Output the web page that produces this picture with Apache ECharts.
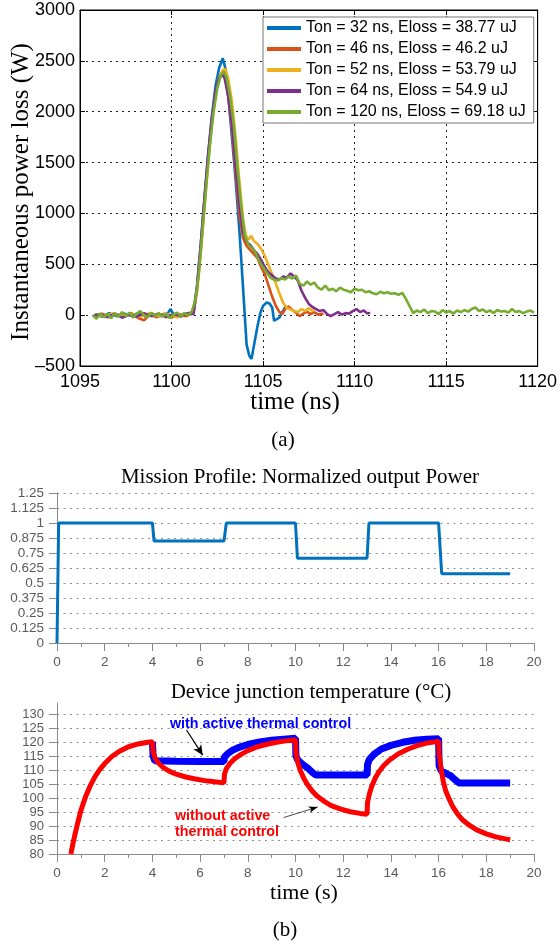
<!DOCTYPE html>
<html><head><meta charset="utf-8">
<script src="https://cdn.jsdelivr.net/npm/echarts@6/dist/echarts.min.js"></script>
<style>html,body{margin:0;padding:0;background:#fff}#c{width:560px;height:945px}</style>
</head><body><div id="c"></div><script>
// ---------- (a) switching power loss ----------
const legendNames = [
  'Ton = 32 ns, Eloss = 38.77 uJ',
  'Ton = 46 ns, Eloss = 46.2 uJ',
  'Ton = 52 ns, Eloss = 53.79 uJ',
  'Ton = 64 ns, Eloss = 54.9 uJ',
  'Ton = 120 ns, Eloss = 69.18 uJ'
];
const t32 = [1095.8,1096.2,1096.6,1097.0,1097.4,1097.8,1098.2,1098.6,1099.0,1099.4,1099.8,1099.95,1100.1,1100.5,1100.9,1101.2,
  1101.4,1101.6,1101.8,1102.0,1102.2,1102.4,1102.6,1102.8,1102.95,1103.1,1103.3,1103.5,1103.7,1103.9,1104.1,1104.25,1104.37,1104.5,1104.7,1104.85,1105.0,1105.2,1105.35,1105.5,1105.6,1105.75,1105.9,1106.05,1106.2,1106.35,1106.45];
const p32 = [10,-15,20,-10,15,-5,20,-15,10,-10,20,60,10,-15,15,30,
  300,700,1150,1580,1950,2250,2430,2526,2420,2150,1750,1330,850,290,-290,-400,-430,-300,-104,20,91,124,115,75,-55,-40,-23,30,75,80,60];
const t46 = [1095.8,1096.2,1096.6,1097.0,1097.4,1097.8,1098.2,1098.5,1098.8,1099.2,1099.6,1100.0,1100.4,1100.8,1101.2,
  1101.4,1101.6,1101.8,1102.0,1102.2,1102.4,1102.6,1102.8,1102.95,1103.1,1103.3,1103.5,1103.7,1103.9,1104.1,1104.3,1104.5,1104.7,1104.9,1105.1,1105.3,1105.5,1105.7,1105.9,1106.05,1106.2,1106.4,1106.6,1106.8,1107.0,1107.2,1107.4,1107.6,1107.8,1108.0,1108.3];
const p46 = [-10,15,-20,10,-15,20,-30,-50,5,-20,15,-25,10,-10,20,
  260,650,1100,1530,1900,2180,2330,2380,2330,2150,1830,1400,1000,760,680,640,600,560,470,400,290,180,90,30,10,60,85,50,25,-10,15,35,10,30,5,15];
const t52 = [1095.8,1096.3,1096.8,1097.3,1097.8,1098.3,1098.8,1099.3,1099.8,1100.3,1100.8,1101.2,
  1101.4,1101.6,1101.8,1102.0,1102.2,1102.4,1102.6,1102.8,1102.95,1103.1,1103.3,1103.5,1103.7,1103.9,1104.05,1104.2,1104.35,1104.5,1104.7,1104.9,1105.1,1105.3,1105.5,1105.7,1105.9,1106.1,1106.3,1106.5,1106.7,1106.9,1107.1,1107.3,1107.5,1107.7,1107.8];
const p52 = [5,-10,15,-5,10,-15,20,-5,10,-20,15,25,
  240,620,1060,1490,1870,2160,2340,2410,2420,2320,2100,1750,1330,960,790,740,780,730,700,650,580,490,400,310,210,120,70,55,40,30,60,40,70,40,50];
const t64 = [1095.7,1096.1,1096.5,1096.9,1097.3,1097.7,1098.1,1098.5,1098.9,1099.3,1099.7,1100.1,1100.5,1100.9,1101.2,
  1101.4,1101.6,1101.8,1102.0,1102.2,1102.4,1102.6,1102.75,1102.9,1103.1,1103.3,1103.5,1103.7,1103.9,1104.1,1104.3,1104.5,1104.7,1104.9,1105.1,1105.3,1105.5,1105.7,1105.9,1106.1,1106.3,1106.5,1106.7,1106.9,1107.1,1107.3,1107.5,1107.7,1107.9,1108.1,1108.3,1108.5,1108.7,1108.9,1109.1,1109.3,1109.5,1109.7,1109.9,1110.1,1110.3,1110.5,1110.7,1110.85];
const p64 = [-10,10,-20,15,-25,5,-15,20,-10,15,-20,10,-5,20,10,
  290,700,1150,1580,1930,2190,2330,2370,2330,2150,1880,1480,1100,820,720,690,640,600,540,470,420,390,360,350,380,370,410,380,340,240,170,110,80,60,40,50,10,-10,10,30,5,20,15,40,60,30,45,15,25];
const t120 = [1095.7,1095.9,1096.1,1096.3,1096.5,1096.7,1096.9,1097.1,1097.3,1097.5,1097.7,1097.9,1098.1,1098.3,1098.5,1098.7,1098.9,1099.1,1099.3,1099.5,1099.7,1099.9,1100.1,1100.3,1100.5,1100.7,1100.9,1101.1,
  1101.3,1101.5,1101.7,1101.9,1102.1,1102.3,1102.5,1102.7,1102.85,1103.0,1103.2,1103.4,1103.6,1103.8,1104.0,1104.2,1104.4,1104.6,1104.8,1105.0,1105.2,1105.4,1105.6,1105.8,1106.0,1106.2,1106.4,1106.6,1106.8,1107.0,1107.2,1107.4,1107.6,1107.8,1108.0,1108.2,1108.4,1108.6,1108.8,1109.0,1109.2,1109.4,1109.6,1109.8,1110.0,1110.2,1110.4,1110.6,1110.8,1111.0,1111.2,1111.4,1111.6,1111.8,1112.0,1112.2,1112.4,1112.6,1112.8,1113.0,1113.2,1113.4,1113.6,1113.8,1114.0,1114.2,1114.4,1114.6,1114.8,1115.0,1115.2,1115.4,1115.6,1115.8,1116.0,1116.2,1116.4,1116.6,1116.8,1117.0,1117.2,1117.4,1117.6,1117.8,1118.0,1118.2,1118.4,1118.6,1118.8,1119.0,1119.2,1119.4,1119.6,1119.8];
const p120 = [0,-35,15,-20,10,-30,20,-15,30,-10,25,-25,15,40,0,-20,25,-10,20,-15,10,-30,5,25,-10,20,0,30,
  150,420,850,1280,1680,2000,2230,2360,2395,2340,2150,1870,1450,1080,780,690,660,610,530,470,420,370,350,340,365,350,380,360,390,310,290,330,300,320,270,250,290,245,260,235,270,250,240,225,260,245,250,225,235,215,205,230,215,225,210,215,200,220,160,90,20,45,30,55,20,40,35,10,50,25,40,15,45,30,50,35,60,75,40,55,30,45,20,50,35,40,25,60,30,40,20,35,45,25];

// ---------- (b) mission profile ----------
const missionT = [0, 0.07, 4.0, 4.07, 7.0, 7.1, 10.0, 10.08, 13.0, 13.08, 16.0, 16.13, 19.0];
const missionP = [0, 1, 1, 0.85, 0.85, 1, 1, 0.707, 0.707, 1, 1, 0.577, 0.577];

// ---------- (b) junction temperature ----------
const tNoCtrl = [0.58,0.7,0.85,1.0,1.2,1.4,1.6,1.8,2.0,2.3,2.6,3.0,3.4,3.8,4.0,
  4.03,4.1,4.25,4.45,4.7,5.0,5.4,5.8,6.2,6.6,7.0,
  7.02,7.1,7.25,7.45,7.7,8.0,8.4,8.8,9.2,9.6,10.0,
  10.02,10.1,10.2,10.35,10.5,10.7,10.9,11.2,11.5,11.9,12.3,12.7,13.0,
  13.02,13.1,13.2,13.35,13.5,13.7,13.95,14.3,14.7,15.1,15.5,16.0,
  16.02,16.1,16.2,16.3,16.45,16.6,16.8,17.0,17.3,17.6,18.0,18.4,18.8,19.0];
const TjNoCtrl = [80,85,90.5,95.5,100.5,104.5,107.7,110.2,112.3,114.8,116.6,118.3,119.3,119.9,120.1,
  116.5,114.5,112.5,110.9,109.6,108.5,107.5,106.8,106.2,105.8,105.4,
  108.5,110.5,112.3,114,115.5,116.9,118.3,119.2,119.9,120.4,120.8,
  116,112.5,109.8,107,104.8,102.5,100.7,98.8,97.3,96,95.1,94.5,94.2,
  98.5,101.5,104.3,107.2,109.4,111.6,113.6,115.7,117.4,118.7,119.6,120.3,
  116,110.5,105.8,102.5,99.5,96.8,94.2,92.2,90.2,88.6,87.2,86.1,85.4,85.1];
const tCtrl = [4.0,4.03,4.1,5.0,6.0,7.0,
  7.02,7.15,7.35,7.6,8.0,8.5,9.0,9.5,10.0,
  10.02,10.1,10.3,10.5,10.7,10.85,11.5,12.5,13.0,
  13.02,13.1,13.3,13.6,14.0,14.5,15.0,15.5,16.0,
  16.02,16.1,16.3,16.5,16.65,16.85,17.5,18.5,19.0];
const TjCtrl = [120,115,113.3,113.1,113,113,
  114.6,115.8,117,118,119.1,120,120.6,121,121.3,
  115,113.5,112,110.8,109.2,108.2,108.2,108.2,108.2,
  112,113.8,115.7,117.5,118.8,119.9,120.6,121,121.2,
  111.5,109.8,108.8,108,106.8,105.4,105.4,105.4,105.4];

const sans = 'Liberation Sans', serif = 'Liberation Serif';
const topColors = ['#0072BD','#D95319','#EDB120','#7E2F8E','#77AC30'];
const zip = (xs, ys) => xs.map((x, i) => [x, ys[i]]);
const topT = [t32, t46, t52, t64, t120];
const topP = [p32, p46, p52, p64, p120];

const grayAx = '#8a8a8a', grayLbl = '#5a5a5a', gridGray = '#8e8e8e';
function lowerX(gi) {
  return {gridIndex: gi, type: 'value', min: 0, max: 20, interval: 2,
    axisLine: {show: true, onZero: false, lineStyle: {color: grayAx}},
    axisTick: {show: true, length: 8, lineStyle: {color: grayAx}},
    minorTick: {show: true, splitNumber: 2, length: 4, lineStyle: {color: grayAx}},
    axisLabel: {color: grayLbl, fontSize: 13.5, fontFamily: sans, margin: 12, formatter: v => String(v)},
    splitLine: {show: false}};
}

const series = [];
topT.forEach((ts, k) => {
  series.push({name: legendNames[k], type: 'line', xAxisIndex: 0, yAxisIndex: 0,
    data: zip(ts, topP[k]), showSymbol: false, symbol: 'none',
    lineStyle: {width: 2.6, color: topColors[k]}, itemStyle: {color: topColors[k]}});
});
series.push({type: 'line', xAxisIndex: 2, yAxisIndex: 2, data: zip(missionT, missionP),
  showSymbol: false, symbol: 'none', lineStyle: {width: 3, color: '#0072BD'}});
series.push({type: 'line', xAxisIndex: 3, yAxisIndex: 3, data: zip(tCtrl, TjCtrl),
  showSymbol: false, symbol: 'none', lineStyle: {width: 7, color: '#0000ff'}});
series.push({type: 'line', xAxisIndex: 3, yAxisIndex: 3, data: zip(tNoCtrl, TjNoCtrl),
  showSymbol: false, symbol: 'none', lineStyle: {width: 5, color: '#ff0000'},
  markLine: {silent: true, animation: false, label: {show: false},
    data: [
      [{coord: [5.43, 124.3], symbol: 'none', lineStyle: {color: '#000', width: 1.2, type: 'solid'}},
       {coord: [6.11, 115.3], symbol: 'arrow', symbolSize: [7, 10]}],
      [{coord: [9.5, 93.0], symbol: 'none', lineStyle: {color: '#000', width: 0.7, type: 'solid'}},
       {coord: [10.93, 96.8], symbol: 'arrow', symbolSize: [5, 9]}]
    ]}});

const option = {
  animation: false,
  backgroundColor: '#fff',
  grid: [
    {left: 80, right: 21, top: 10, bottom: 579, show: true, borderColor: '#000', borderWidth: 1, backgroundColor: 'transparent'},
    {left: 57, right: 26, top: 493, bottom: 302},
    {left: 57, right: 26, top: 714, bottom: 91},
    {left: 57, right: 26, top: 703, bottom: 91}
  ],
  legend: {data: legendNames, orient: 'vertical', left: 263, top: 17, itemWidth: 34, itemHeight: 4,
    itemGap: 5, icon: 'rect', backgroundColor: '#fff', borderColor: '#777', borderWidth: 1,
    padding: [3, 8, 3, 4], textStyle: {fontSize: 16, fontFamily: sans, color: '#000'}},
  xAxis: [
    {gridIndex: 0, type: 'value', min: 1095, max: 1120, interval: 5,
      axisLine: {show: true, onZero: false, lineStyle: {color: '#000'}},
      axisTick: {show: true, inside: true, length: 5, lineStyle: {color: '#000'}},
      axisLabel: {color: '#000', fontSize: 18, fontFamily: sans, margin: 7, formatter: v => String(v)},
      splitLine: {show: true, lineStyle: {color: '#222', type: [2, 4], width: 1}}},
    {gridIndex: 0, type: 'value', position: 'top', min: 1095, max: 1120, interval: 5,
      axisLine: {show: true, onZero: false, lineStyle: {color: '#000'}},
      axisTick: {show: true, inside: true, length: 5, lineStyle: {color: '#000'}},
      axisLabel: {show: false}, splitLine: {show: false}},
    lowerX(1), lowerX(2),
    {gridIndex: 3, type: 'value', min: 0, max: 20, show: false}
  ],
  yAxis: [
    {gridIndex: 0, type: 'value', min: -500, max: 3000, interval: 500,
      axisLine: {show: true, onZero: false, lineStyle: {color: '#000'}},
      axisTick: {show: true, inside: true, length: 5, lineStyle: {color: '#000'}},
      axisLabel: {color: '#000', fontSize: 18, fontFamily: sans, margin: 5,
        formatter: v => v < 0 ? '\u2013' + Math.abs(v) : String(v)},
      splitLine: {show: true, lineStyle: {color: '#222', type: [2, 4], width: 1}}},
    {gridIndex: 0, type: 'value', position: 'right', min: -500, max: 3000, interval: 500,
      axisLine: {show: true, onZero: false, lineStyle: {color: '#000'}},
      axisTick: {show: true, inside: true, length: 5, lineStyle: {color: '#000'}},
      axisLabel: {show: false}, splitLine: {show: false}},
    {gridIndex: 1, type: 'value', min: 0, max: 1.25, interval: 0.125,
      axisLine: {show: true, onZero: false, lineStyle: {color: grayAx}},
      axisTick: {show: true, length: 8, lineStyle: {color: grayAx}},
      axisLabel: {color: grayLbl, fontSize: 13.5, fontFamily: sans, margin: 13,
        formatter: v => String(+v.toFixed(3))},
      splitLine: {show: true, lineStyle: {color: gridGray, type: [2, 4.5], width: 1}}},
    {gridIndex: 2, type: 'value', min: 80, max: 130, interval: 5,
      axisLine: {show: true, onZero: false, lineStyle: {color: grayAx}},
      axisTick: {show: true, length: 8, lineStyle: {color: grayAx}},
      axisLabel: {color: grayLbl, fontSize: 13, fontFamily: sans, margin: 13, formatter: v => String(v)},
      splitLine: {show: true, lineStyle: {color: gridGray, type: [2, 4.5], width: 1}}},
    {gridIndex: 3, type: 'value', min: 0, max: 1,
      axisLine: {show: true, onZero: false, lineStyle: {color: grayAx}},
      axisTick: {show: false}, axisLabel: {show: false}, splitLine: {show: false}}
  ],
  graphic: [
    {type: 'text', x: 21, y: 192, rotation: Math.PI / 2,
      style: {text: 'Instantaneous power loss (W)', fontSize: 25, fontFamily: serif, fill: '#000', align: 'center', verticalAlign: 'middle'}},
    {type: 'text', x: 295, y: 402, style: {text: 'time (ns)', fontSize: 25, fontFamily: serif, fill: '#000', align: 'center', verticalAlign: 'middle'}},
    {type: 'text', x: 283, y: 440, style: {text: '(a)', fontSize: 21, fontFamily: serif, fill: '#000', align: 'center', verticalAlign: 'middle'}},
    {type: 'text', x: 300, y: 477, style: {text: 'Mission Profile: Normalized output Power', fontSize: 21, fontFamily: serif, fill: '#000', align: 'center', verticalAlign: 'middle'}},
    {type: 'text', x: 311, y: 692, style: {text: 'Device junction temperature (\u00B0C)', fontSize: 21, fontFamily: serif, fill: '#000', align: 'center', verticalAlign: 'middle'}},
    {type: 'text', x: 304, y: 893, style: {text: 'time (s)', fontSize: 22, fontFamily: serif, fill: '#000', align: 'center', verticalAlign: 'middle'}},
    {type: 'text', x: 285, y: 930, style: {text: '(b)', fontSize: 21, fontFamily: serif, fill: '#000', align: 'center', verticalAlign: 'middle'}},
    {type: 'text', x: 170, y: 724, style: {text: 'with active thermal control', fontSize: 14.3, fontWeight: 'bold', fontFamily: sans, fill: '#0000ff', align: 'left', verticalAlign: 'middle'}},
    {type: 'text', x: 175, y: 816, style: {text: 'without active', fontSize: 14.3, fontWeight: 'bold', fontFamily: sans, fill: '#ff0000', align: 'left', verticalAlign: 'middle'}},
    {type: 'text', x: 175, y: 832, style: {text: 'thermal control', fontSize: 14.3, fontWeight: 'bold', fontFamily: sans, fill: '#ff0000', align: 'left', verticalAlign: 'middle'}}
  ],
  series: series
};
const chart = echarts.init(document.getElementById('c'), null, {renderer: 'canvas'});
chart.setOption(option);
</script></body></html>
